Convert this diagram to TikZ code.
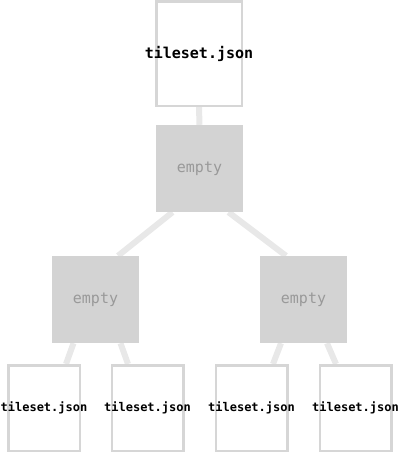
\documentclass[tikz,border=0pt]{standalone}
\usepackage{fontspec}
\setmonofont{DejaVu Sans Mono}
\usetikzlibrary{backgrounds}
\definecolor{boxgray}{HTML}{D6D6D6}
\definecolor{emptygray}{HTML}{D3D3D3}
\definecolor{edgegray}{HTML}{E8E8E8}
\definecolor{textgray}{HTML}{999999}
\newcommand{\jsonname}[1]{\makebox[0pt]{\ttfamily\bfseries #1}}

\begin{document}
\begin{tikzpicture}[x=1pt, y=-1pt,
    tilebox/.style={draw=boxgray, line width=2.5pt, fill=white, inner sep=0pt},
    rootbox/.style={tilebox, minimum width=85.5pt, minimum height=104.5pt, font=\fontsize{15}{18}\selectfont},
    leafbox/.style={tilebox, minimum width=71.5pt, minimum height=85.5pt, font=\fontsize{12}{14}\selectfont},
    emptybox/.style={fill=emptygray, minimum size=87pt, inner sep=0pt, text=textgray, font=\ttfamily\fontsize{15}{18}\selectfont},
    link/.style={draw=edgegray, line width=6pt}]
    \useasboundingbox (0,0) rectangle (400,453);

    \node[rootbox] (root) at (199,53.5) {\jsonname{tileset.json}};
    \node[emptybox] (e) at (199.5,168.5) {empty};
    \node[emptybox] (el) at (95.5,299.5) {empty};
    \node[emptybox] (er) at (303.5,299.5) {empty};
    \node[leafbox] (la) at (44,408) {\jsonname{tileset.json}};
    \node[leafbox] (lb) at (147.5,408) {\jsonname{tileset.json}};
    \node[leafbox] (lc) at (251.5,408) {\jsonname{tileset.json}};
    \node[leafbox] (ld) at (355.5,408) {\jsonname{tileset.json}};

    \begin{scope}[on background layer]
        \draw[link] (root.south) -- (e.north);
        \draw[link] ([xshift=-27pt]e.south) -- ([xshift=22.5pt]el.north);
        \draw[link] ([xshift=29pt]e.south) -- ([xshift=-17.5pt]er.north);
        \draw[link] ([xshift=-22pt]el.south) -- ([xshift=22pt]la.north);
        \draw[link] ([xshift=25pt]el.south) -- ([xshift=-19.5pt]lb.north);
        \draw[link] ([xshift=-22.5pt]er.south) -- ([xshift=21.5pt]lc.north);
        \draw[link] ([xshift=23.5pt]er.south) -- ([xshift=-19.5pt]ld.north);
    \end{scope}
\end{tikzpicture}
\end{document}
